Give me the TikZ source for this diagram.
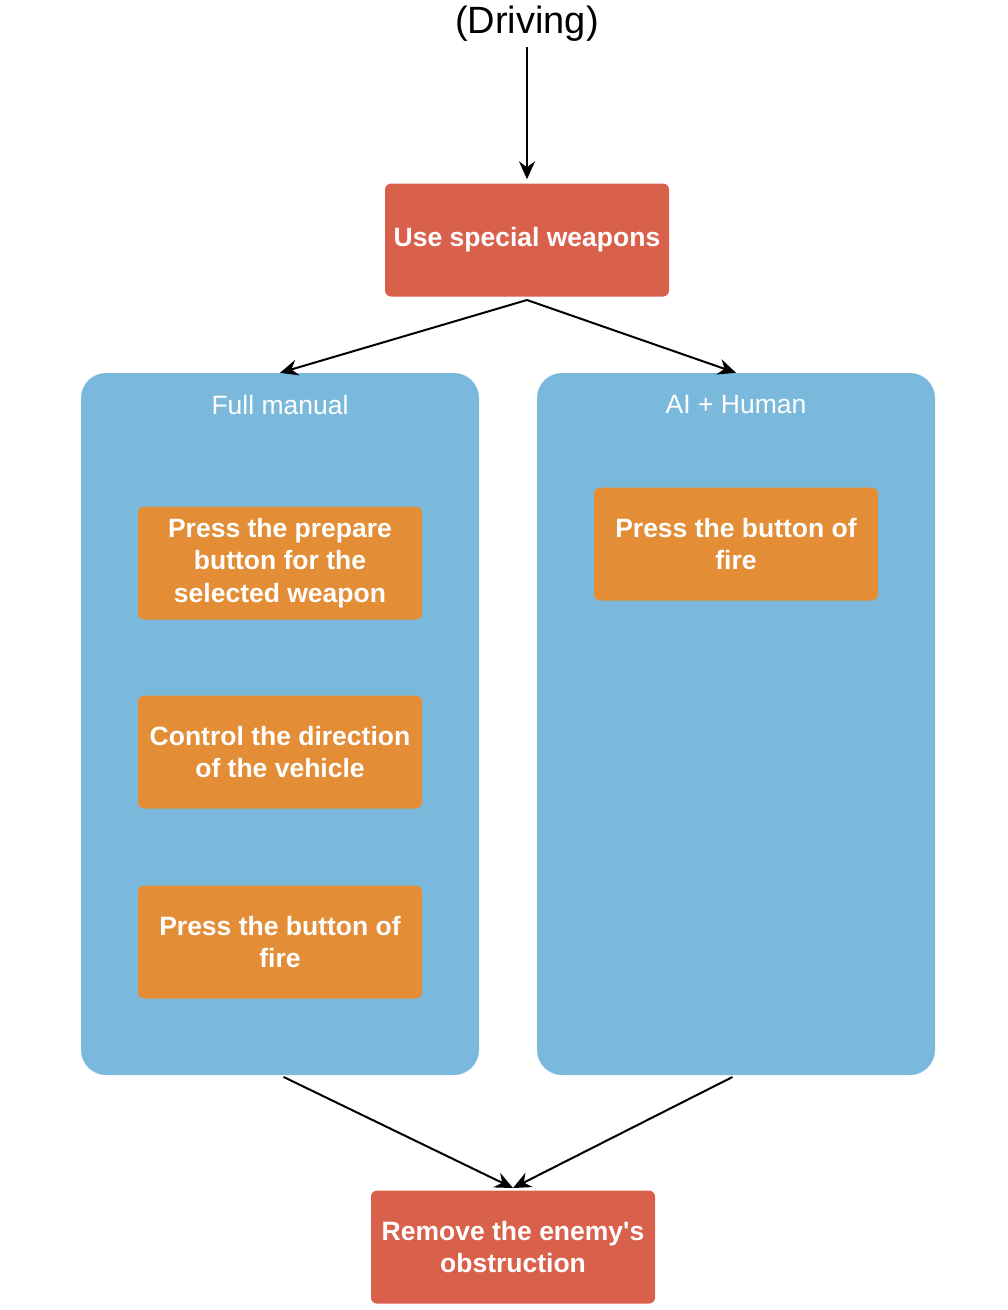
\documentclass[tikz,border=0pt]{standalone}
\usepackage{fontspec}
\setmainfont{Liberation Sans}
\usetikzlibrary{arrows.meta}
\definecolor{redbox}{HTML}{D9604B}
\definecolor{bluebox}{HTML}{7AB8DC}
\definecolor{orangebox}{HTML}{E38D36}
\begin{document}
\begin{tikzpicture}[
  x = 1pt,
  y = -1pt,
  action/.style = {
    shape = rectangle,
    rounded corners = 6pt,
    fill = redbox,
    text = white,
    align = center,
    minimum width = 284pt,
    minimum height = 113pt,
    font = \bfseries\fontsize{26.5}{32.5}\selectfont
  },
  task/.style = {
    action,
    fill = orangebox
  },
  group/.style = {
    shape = rectangle,
    rounded corners = 25pt,
    fill = bluebox,
    minimum width = 398pt,
    minimum height = 702pt
  },
  grouptitle/.style = {
    text = white,
    font = \fontsize{26.5}{32}\selectfont
  },
  link/.style = {
    line width = 2pt,
    -{Stealth[length = 18pt, width = 16pt, inset = 6pt]}
  }
]
  \useasboundingbox (0, 0) rectangle (1008, 1310);
  \node[font = \fontsize{38}{44}\selectfont] (driving) at (527, 24) {(Driving)};
  \node[action] (special) at (527, 240) {Use special weapons};

  \node[group] (manual) at (280, 724) {};
  \node[group] (aihuman) at (736, 724) {};
  \node[grouptitle] (manualtitle) at (280, 405) {Full manual};
  \node[grouptitle] (aititle) at (736, 405) {AI + Human};

  \node[task] (prepare) at (280, 563) {Press the prepare\\button for the\\selected weapon};
  \node[task] (direction) at (280, 752) {Control the direction\\of the vehicle};
  \node[task] (fireleft) at (280, 942) {Press the button of\\fire};
  \node[task] (fireright) at (736, 544) {Press the button of\\fire};

  \node[action] (remove) at (513, 1247) {Remove the enemy\textquotesingle s\\obstruction};

  \coordinate (split) at (527, 300);
  \coordinate (join) at (513, 1188);

  \draw[link, shorten <= 2pt, shorten >= 4pt] (driving) -- (special);
  \draw[link] (split) -- (manual.north);
  \draw[link] (split) -- (aihuman.north);
  \draw[link, shorten <= 4pt] (manual.south) -- (join);
  \draw[link, shorten <= 4pt] (aihuman.south) -- (join);
\end{tikzpicture}
\end{document}
